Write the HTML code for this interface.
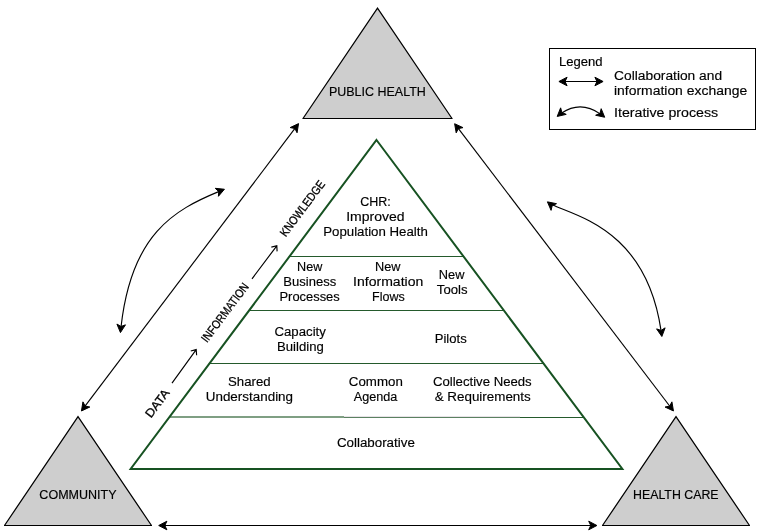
<!DOCTYPE html><html><head><meta charset="utf-8"><style>html,body{margin:0;padding:0;background:#fff;width:761px;height:532px;overflow:hidden}svg{display:block;will-change:transform}text{font-family:"Liberation Sans",sans-serif;fill:#000;stroke:#000;stroke-width:0.15px}</style></head><body>
<svg width="761" height="532" viewBox="0 0 761 532">
<path d="M377.5 8.2L452 118.5L303 118.5Z" fill="#cecece" stroke="none"/>
<path d="M303 118.5L452 118.5" stroke="#000" stroke-width="1" stroke-linecap="square"/>
<path d="M303 118.5L377.5 8.2L452 118.5" fill="none" stroke="#000" stroke-width="1.25" stroke-miterlimit="10"/>
<path d="M78 416.6L151.5 525.5L4.5 525.5Z" fill="#cecece" stroke="none"/>
<path d="M4.5 525.5L151.5 525.5" stroke="#000" stroke-width="1" stroke-linecap="square"/>
<path d="M4.5 525.5L78 416.6L151.5 525.5" fill="none" stroke="#000" stroke-width="1.25" stroke-miterlimit="10"/>
<path d="M676 416.6L749.5 525.5L602.5 525.5Z" fill="#cecece" stroke="none"/>
<path d="M602.5 525.5L749.5 525.5" stroke="#000" stroke-width="1" stroke-linecap="square"/>
<path d="M602.5 525.5L676 416.6L749.5 525.5" fill="none" stroke="#000" stroke-width="1.25" stroke-miterlimit="10"/>
<path d="M298.56 123.62L297.05 132.75L294.85 128.53L290.18 127.57Z" fill="#000" stroke="#000" stroke-width="1" stroke-miterlimit="10"/>
<path d="M81.44 410.98L82.95 401.85L85.15 406.07L89.82 407.03Z" fill="#000" stroke="#000" stroke-width="1" stroke-miterlimit="10"/>
<path d="M84.85 406.47L295.15 128.13" fill="none" stroke="#000" stroke-width="1.15"/>
<path d="M673.46 410.98L665.07 407.06L669.73 406.09L671.91 401.85Z" fill="#000" stroke="#000" stroke-width="1" stroke-miterlimit="10"/>
<path d="M454.64 123.72L463.03 127.64L458.37 128.61L456.19 132.85Z" fill="#000" stroke="#000" stroke-width="1" stroke-miterlimit="10"/>
<path d="M458.07 128.21L670.03 406.49" fill="none" stroke="#000" stroke-width="1.15"/>
<path d="M596.9 525.5L588.7 529.8L590.75 525.5L588.7 521.2Z" fill="#000" stroke="#000" stroke-width="1" stroke-miterlimit="10"/>
<path d="M158.7 525.5L166.9 521.2L164.85 525.5L166.9 529.8Z" fill="#000" stroke="#000" stroke-width="1" stroke-miterlimit="10"/>
<path d="M164.35 525.5L591.25 525.5" fill="none" stroke="#000" stroke-width="1"/>
<path d="M289.44 256.5L463.56 256.5" stroke="#245a2c" stroke-width="1"/>
<path d="M249.08 310.5L503.92 310.5" stroke="#245a2c" stroke-width="1"/>
<path d="M209.47 363.5L543.53 363.5" stroke="#245a2c" stroke-width="1"/>
<rect x="169.49" y="416" width="174.51" height="2" fill="#7f9f83"/>
<rect x="344" y="416" width="176" height="1" fill="#e6e2e6"/>
<rect x="344" y="417" width="176" height="1" fill="#5b8161"/>
<rect x="520" y="417" width="63.88" height="1" fill="#245a2c"/>
<path d="M376.5 140L622.37 469L130.63 469Z" fill="none" stroke="#175222" stroke-width="2" stroke-miterlimit="10"/>
<rect x="549.5" y="48.5" width="206" height="81" fill="none" stroke="#000" stroke-width="1"/>
<path d="M603.1 81.5L594.9 85.8L596.95 81.5L594.9 77.2Z" fill="#000" stroke="#000" stroke-width="1" stroke-miterlimit="10"/>
<path d="M558.9 81.5L567.1 77.2L565.05 81.5L567.1 85.8Z" fill="#000" stroke="#000" stroke-width="1" stroke-miterlimit="10"/>
<path d="M564.55 81.5L597.45 81.5" fill="none" stroke="#000" stroke-width="1"/>
<path d="M604.69 117.24L595.65 115.26L599.99 113.29L601.18 108.68Z" fill="#000" stroke="#000" stroke-width="1" stroke-miterlimit="10"/>
<path d="M557.2 116.44L560.63 107.84L561.87 112.44L566.23 114.37Z" fill="#000" stroke="#000" stroke-width="1" stroke-miterlimit="10"/>
<path d="M561.71 113.03Q580.5 100.38 600.19 113.83" fill="none" stroke="#000" stroke-width="1.1"/>
<path d="M120.44 332.6L116.92 324.04L121.01 326.48L125.48 324.84Z" fill="#000" stroke="#000" stroke-width="1" stroke-miterlimit="10"/>
<path d="M224.43 189.25L218.43 196.3L218.72 191.55L215.22 188.32Z" fill="#000" stroke="#000" stroke-width="1" stroke-miterlimit="10"/>
<path d="M219.2 191.38C173.94 210.02 131.39 234.09 121.02 326.98" fill="none" stroke="#000" stroke-width="1.15"/>
<path d="M661.85 336.5L656.6 328.88L661.11 330.4L665.14 327.85Z" fill="#000" stroke="#000" stroke-width="1" stroke-miterlimit="10"/>
<path d="M547.41 201.85L556.49 203.68L552.19 205.73L551.07 210.36Z" fill="#000" stroke="#000" stroke-width="1" stroke-miterlimit="10"/>
<path d="M552.29 204.7C576.03 216.17 646.24 229.51 661.1 330.9" fill="none" stroke="#000" stroke-width="1.15"/>
<path d="M172 383.1L196.2 349.6M190.77 350.97L196.2 349.6L196.61 355.19" fill="none" stroke="#000" stroke-width="1.15" stroke-linejoin="miter"/>
<path d="M252 278.8L276.8 245.8M271.35 247.07L276.8 245.8L277.1 251.39" fill="none" stroke="#000" stroke-width="1.15" stroke-linejoin="miter"/>
<text x="328.94" y="96" font-size="12" text-anchor="start" textLength="96.89" lengthAdjust="spacingAndGlyphs">PUBLIC HEALTH</text>
<text x="39.38" y="499" font-size="12" text-anchor="start" textLength="77.15" lengthAdjust="spacingAndGlyphs">COMMUNITY</text>
<text x="632.98" y="499" font-size="12" text-anchor="start" textLength="85.64" lengthAdjust="spacingAndGlyphs">HEALTH CARE</text>
<text x="558.96" y="66" font-size="12" text-anchor="start" textLength="43.64" lengthAdjust="spacingAndGlyphs">Legend</text>
<text x="614.1" y="80" font-size="12" text-anchor="start" textLength="108.01" lengthAdjust="spacingAndGlyphs">Collaboration and</text>
<text x="613.99" y="95" font-size="12" text-anchor="start" textLength="133.16" lengthAdjust="spacingAndGlyphs">information exchange</text>
<text x="614.01" y="117" font-size="12" text-anchor="start" textLength="104.2" lengthAdjust="spacingAndGlyphs">Iterative process</text>
<text x="360.22" y="206" font-size="12" text-anchor="start" textLength="30.59" lengthAdjust="spacingAndGlyphs">CHR:</text>
<text x="346.24" y="221" font-size="12" text-anchor="start" textLength="58.35" lengthAdjust="spacingAndGlyphs">Improved</text>
<text x="323.21" y="236" font-size="12" text-anchor="start" textLength="104.63" lengthAdjust="spacingAndGlyphs">Population Health</text>
<text x="297.12" y="271" font-size="12" text-anchor="start" textLength="25.21" lengthAdjust="spacingAndGlyphs">New</text>
<text x="283.35" y="286" font-size="12" text-anchor="start" textLength="52.91" lengthAdjust="spacingAndGlyphs">Business</text>
<text x="279.5" y="301" font-size="12" text-anchor="start" textLength="60.22" lengthAdjust="spacingAndGlyphs">Processes</text>
<text x="375.11" y="271" font-size="12" text-anchor="start" textLength="25.44" lengthAdjust="spacingAndGlyphs">New</text>
<text x="353.11" y="286" font-size="12" text-anchor="start" textLength="70.13" lengthAdjust="spacingAndGlyphs">Information</text>
<text x="372.09" y="301" font-size="12" text-anchor="start" textLength="32.72" lengthAdjust="spacingAndGlyphs">Flows</text>
<text x="438.86" y="279" font-size="12" text-anchor="start" textLength="25.62" lengthAdjust="spacingAndGlyphs">New</text>
<text x="436.88" y="294" font-size="12" text-anchor="start" textLength="30.66" lengthAdjust="spacingAndGlyphs">Tools</text>
<text x="274.49" y="336" font-size="12" text-anchor="start" textLength="51.39" lengthAdjust="spacingAndGlyphs">Capacity</text>
<text x="277.02" y="351" font-size="12" text-anchor="start" textLength="46.74" lengthAdjust="spacingAndGlyphs">Building</text>
<text x="434.75" y="343" font-size="12" text-anchor="start" textLength="31.93" lengthAdjust="spacingAndGlyphs">Pilots</text>
<text x="228.06" y="386" font-size="12" text-anchor="start" textLength="42.61" lengthAdjust="spacingAndGlyphs">Shared</text>
<text x="205.76" y="401" font-size="12" text-anchor="start" textLength="87.31" lengthAdjust="spacingAndGlyphs">Understanding</text>
<text x="348.84" y="386" font-size="12" text-anchor="start" textLength="53.97" lengthAdjust="spacingAndGlyphs">Common</text>
<text x="353.78" y="401" font-size="12" text-anchor="start" textLength="43.54" lengthAdjust="spacingAndGlyphs">Agenda</text>
<text x="432.9" y="386" font-size="12" text-anchor="start" textLength="98.81" lengthAdjust="spacingAndGlyphs">Collective Needs</text>
<text x="434.66" y="401" font-size="12" text-anchor="start" textLength="96.05" lengthAdjust="spacingAndGlyphs">&amp; Requirements</text>
<text x="336.9" y="447" font-size="12" text-anchor="start" textLength="77.93" lengthAdjust="spacingAndGlyphs">Collaborative</text>
<text x="0" y="0" font-size="12" style="stroke-width:0.3px" text-anchor="middle" textLength="32" lengthAdjust="spacingAndGlyphs" transform="translate(160.6,405.8) rotate(-53.2)">DATA</text>
<text x="0" y="0" font-size="12" style="stroke-width:0.3px" text-anchor="middle" textLength="70.5" lengthAdjust="spacingAndGlyphs" transform="translate(228.2,315) rotate(-53.2)">INFORMATION</text>
<text x="0" y="0" font-size="12" style="stroke-width:0.3px" text-anchor="middle" textLength="66.5" lengthAdjust="spacingAndGlyphs" transform="translate(305.6,210.8) rotate(-53.2)">KNOWLEDGE</text>
</svg></body></html>
